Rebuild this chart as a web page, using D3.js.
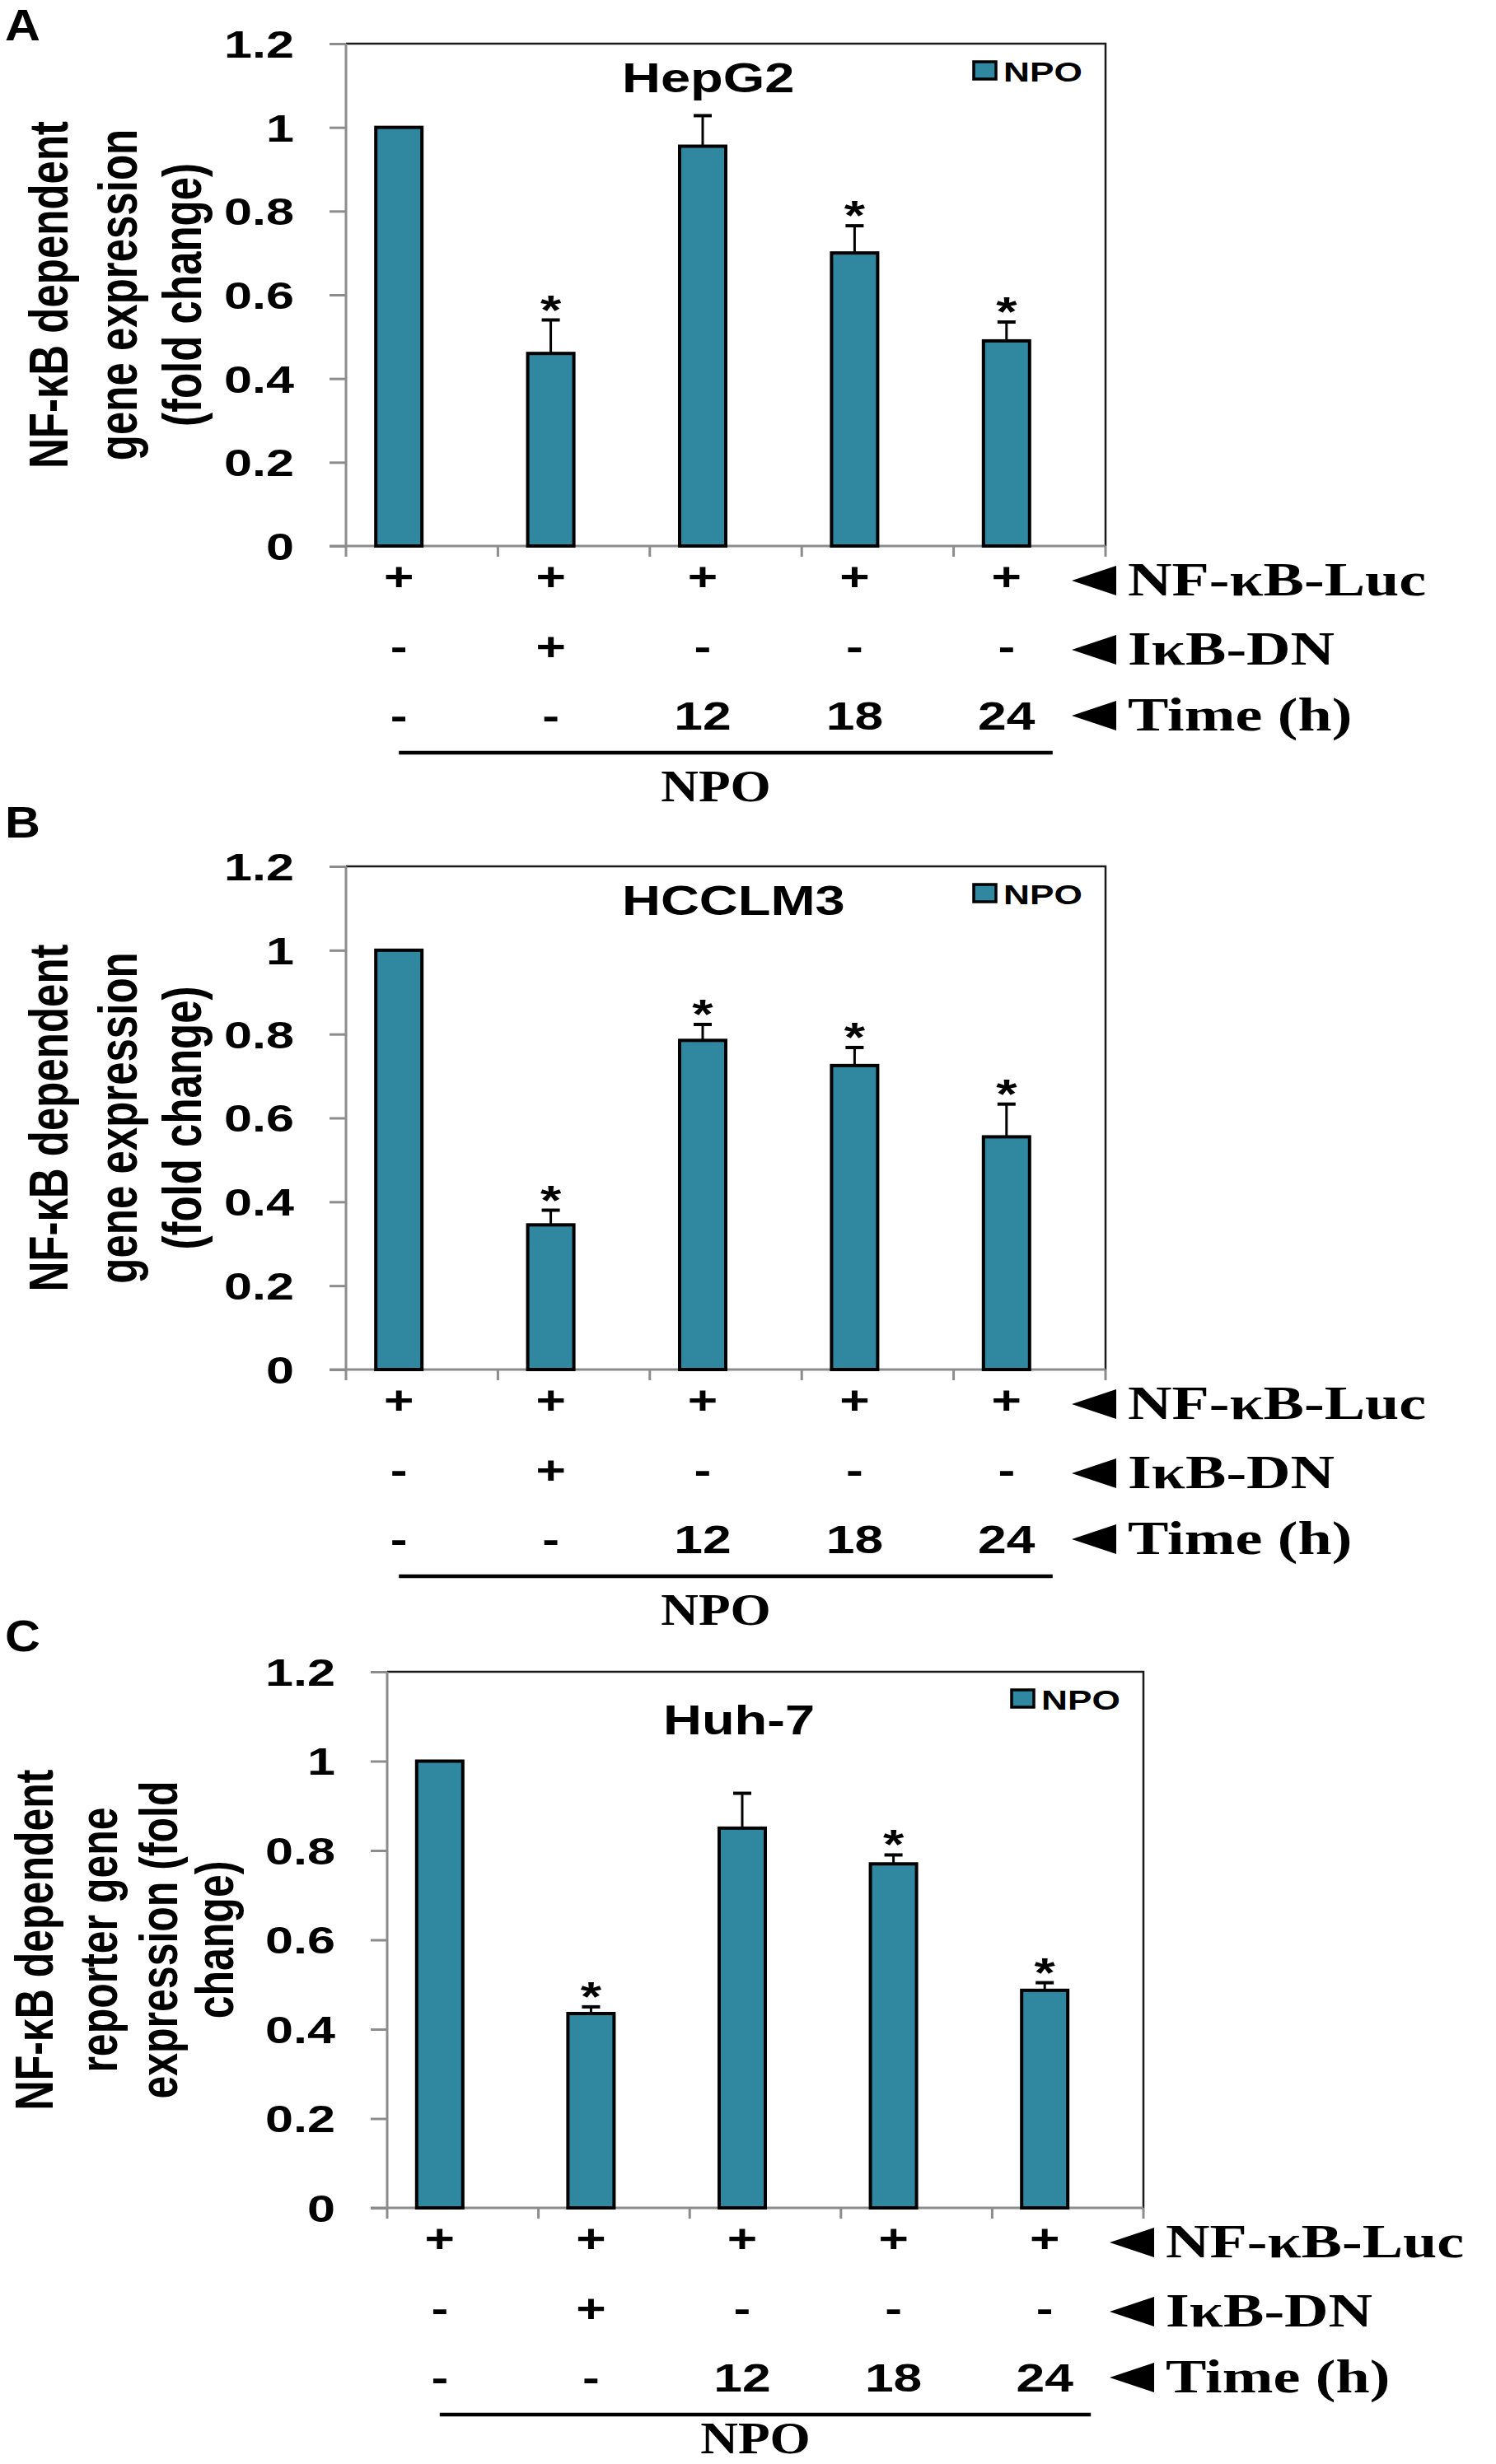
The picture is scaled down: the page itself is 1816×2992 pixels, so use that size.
<!DOCTYPE html>
<html>
<head>
<meta charset="utf-8">
<script src="https://cdn.jsdelivr.net/npm/d3@7"></script>
<style>
  body { margin: 0; background: #fff; }
  svg { display: block; }
</style>
</head>
<body>
<div id="figure"></div>
<script>
// ---- data ----
const categories = ['ctrl', 'ikb', 't12', 't18', 't24'];
const seriesNames = ['NPO', 'blank'];   // Excel left a blank second series, so bars sit left of centre
const yTicks = [0, 0.2, 0.4, 0.6, 0.8, 1, 1.2];

const lucRow = ['+', '+', '+', '+', '+'];
const ikbRow = ['-', '+', '-', '-', '-'];
const timeRow = ['-', '-', '12', '18', '24'];
const rowLabels = ['NF-\u03baB-Luc', 'I\u03baB-DN', 'Time (h)'];

const hepg2Values = [1.00, 0.46, 0.955, 0.70, 0.49];
const hepg2Errors = [0, 0.08, 0.073, 0.065, 0.045];
const hepg2Stars = [false, true, false, true, true];

const hcclm3Values = [1.00, 0.345, 0.785, 0.725, 0.555];
const hcclm3Errors = [0, 0.035, 0.038, 0.043, 0.078];
const hcclm3Stars = [false, true, true, true, true];

const huh7Values = [1.00, 0.435, 0.85, 0.77, 0.487];
const huh7Errors = [0, 0.015, 0.078, 0.02, 0.017];
const huh7Stars = [false, true, false, true, true];

const yLabelAB = ['NF-\u03baB dependent', 'gene expression', '(fold change)'];
const yLabelC = ['NF-\u03baB dependent', 'reporter gene', 'expression (fold', 'change)'];

// ---- layout ----
let svgWidth = 1816, svgHeight = 2992;
let SX = 1.3;                 // the source figure is stretched sideways
let barColor = '#2f87a0';
let axisGrey = '#8c8c8c';
let sans = '"Liberation Sans", Arial, sans-serif';
let serif = '"Liberation Serif", "Times New Roman", serif';
let barW = 56;

let panels = [
    { letter: 'A', title: 'HepG2', values: hepg2Values, errors: hepg2Errors, stars: hepg2Stars,
      yLabel: yLabelAB, labelX: [82, 166, 244], labelSize: 51, left: 420, right: 1342, top: 53, bottom: 663,
      titleDy: 59, letterY: 49, npoDy: 310 },
    { letter: 'B', title: 'HCCLM3', values: hcclm3Values, errors: hcclm3Errors, stars: hcclm3Stars,
      yLabel: yLabelAB, labelX: [82, 166, 244], labelSize: 51, left: 420, right: 1342, top: 1052, bottom: 1663,
      titleDy: 59, letterY: 1017, npoDy: 310 },
    { letter: 'C', title: 'Huh-7', values: huh7Values, errors: huh7Errors, stars: huh7Stars,
      yLabel: yLabelC, labelX: [64, 142, 215, 283], labelSize: 50, left: 470, right: 1388, top: 2030, bottom: 2681,
      titleDy: 76, letterY: 2005, npoDy: 298 }
];

let svg = d3.select('#figure')
            .append('svg')
            .attr('width', svgWidth)
            .attr('height', svgHeight);

// text stretched horizontally like the original
function wideText(g, x, y, str, size, opts) {
    opts = opts || {};
    return g.append('text')
        .attr('transform', `translate(${x},${y}) scale(${opts.sx || SX},1)`)
        .attr('text-anchor', opts.anchor || 'middle')
        .attr('font-family', opts.family || sans)
        .attr('font-weight', opts.weight || 'bold')
        .attr('font-size', size)
        .attr('fill', '#000')
        .text(str);
}

panels.forEach(p => {
    let g = svg.append('g');

    let x = d3.scaleBand()
              .domain(categories)
              .range([p.left, p.right])
              .paddingInner(0)
              .paddingOuter(0);
    let outer = (x.bandwidth() / barW - 2) / 2;
    let xSub = d3.scaleBand()
              .domain(seriesNames)
              .range([0, x.bandwidth()])
              .paddingInner(0)
              .paddingOuter(outer);
    let y = d3.scaleLinear()
              .domain([0, 1.2])
              .range([p.bottom, p.top]);

    let barCenter = i => x(categories[i]) + xSub('NPO') + xSub.bandwidth() / 2;

    // panel letter
    wideText(g, 6, p.letterY, p.letter, 54, { anchor: 'start', sx: 1.1 });

    // frame: top and right are dark
    g.append('path')
        .attr('d', `M${p.left},${p.top}H${p.right}V${p.bottom}`)
        .attr('fill', 'none')
        .attr('stroke', '#1a1a1a')
        .attr('stroke-width', 2.5);

    // y axis
    let yAxis = d3.axisLeft(y).tickValues(yTicks).tickSize(20).tickFormat(d3.format('~g'));
    let yG = g.append('g')
        .attr('transform', `translate(${p.left},0)`)
        .call(yAxis);
    yG.select('.domain').attr('stroke', axisGrey).attr('stroke-width', 3)
        .attr('d', `M0,${p.top}V${p.bottom}`);
    yG.selectAll('.tick line').attr('stroke', axisGrey).attr('stroke-width', 3);
    yG.selectAll('.tick text')
        .attr('x', null)
        .attr('dy', '0.35em')
        .attr('transform', `translate(-63,0) scale(${SX},1)`)
        .attr('text-anchor', 'end')
        .attr('font-family', sans)
        .attr('font-weight', 'bold')
        .attr('font-size', 47)
        .attr('fill', '#000');

    // x axis, ticks at category boundaries
    let xAxis = d3.axisBottom(x).tickSize(0).tickFormat('');
    let xG = g.append('g')
        .attr('transform', `translate(0,${p.bottom})`)
        .call(xAxis);
    xG.select('.domain').attr('stroke', axisGrey).attr('stroke-width', 3)
        .attr('d', `M${p.left - 20},0H${p.right}`);
    let bounds = categories.map(c => x(c)).concat([x.range()[1]]);
    xG.selectAll('.bound')
        .data(bounds)
        .enter()
        .append('line')
        .attr('x1', d => d).attr('x2', d => d)
        .attr('y1', 0).attr('y2', 13)
        .attr('stroke', axisGrey)
        .attr('stroke-width', 3);

    // bars
    g.selectAll('.bar')
        .data(p.values)
        .enter()
        .append('rect')
        .attr('x', (d, i) => x(categories[i]) + xSub('NPO'))
        .attr('y', d => y(d))
        .attr('width', xSub.bandwidth())
        .attr('height', d => y(0) - y(d))
        .attr('fill', barColor)
        .attr('stroke', '#000')
        .attr('stroke-width', 4);

    // error bars (upper half only shows)
    p.errors.forEach((e, i) => {
        if (e <= 0) return;
        let cx = barCenter(i);
        g.append('line')
            .attr('x1', cx).attr('x2', cx)
            .attr('y1', y(p.values[i])).attr('y2', y(p.values[i] + e))
            .attr('stroke', '#000').attr('stroke-width', 3);
        g.append('line')
            .attr('x1', cx - 11).attr('x2', cx + 11)
            .attr('y1', y(p.values[i] + e)).attr('y2', y(p.values[i] + e))
            .attr('stroke', '#000').attr('stroke-width', 4);
    });

    // significance stars
    p.stars.forEach((s, i) => {
        if (!s) return;
        wideText(g, barCenter(i), y(p.values[i] + p.errors[i]) + 5, '*', 50);
    });

    // title and legend
    wideText(g, p.left + 335, p.top + p.titleDy, p.title, 50, { anchor: 'start' });
    let legY = p.top + 33;
    g.append('rect')
        .attr('x', p.right - 160).attr('y', legY - 11)
        .attr('width', 27).attr('height', 21)
        .attr('fill', barColor)
        .attr('stroke', '#000')
        .attr('stroke-width', 3.5);
    wideText(g, p.right - 124, legY + 13, seriesNames[0], 34, { anchor: 'start' });

    // rotated y label (also widened across the glyphs)
    p.yLabel.forEach((line, k) => {
        g.append('text')
            .attr('transform', `translate(${p.labelX[k]},${(p.top + p.bottom) / 2}) scale(${SX},1) rotate(-90)`)
            .attr('text-anchor', 'middle')
            .attr('font-family', sans)
            .attr('font-weight', 'bold')
            .attr('font-size', p.labelSize)
            .attr('fill', '#000')
            .text(line);
    });

    // condition rows under the bars
    let rows = [lucRow, ikbRow, timeRow];
    let rowBase = [54, 139, 223];
    let labelBase = [60, 144, 224];
    rows.forEach((row, r) => {
        row.forEach((v, i) => {
            wideText(g, barCenter(i), p.bottom + rowBase[r], v, 48);
        });
        let ty = p.bottom + labelBase[r] - 18;
        g.append('path')
            .attr('d', `M${p.right - 41},${ty}L${p.right + 13},${ty - 18}L${p.right + 13},${ty + 18}Z`)
            .attr('fill', '#000');
        wideText(g, p.right + 27, p.bottom + labelBase[r], rowLabels[r], 57,
                 { anchor: 'start', family: serif });
    });

    // NPO bracket line
    let ulStart = barCenter(0), ulEnd = barCenter(categories.length - 1) + 56;
    g.append('line')
        .attr('x1', ulStart).attr('x2', ulEnd)
        .attr('y1', p.bottom + 251).attr('y2', p.bottom + 251)
        .attr('stroke', '#000').attr('stroke-width', 4.5);
    wideText(g, (ulStart + ulEnd) / 2 - 12, p.bottom + p.npoDy, seriesNames[0], 55,
             { family: serif, sx: 1.15 });
});
</script>
</body>
</html>
